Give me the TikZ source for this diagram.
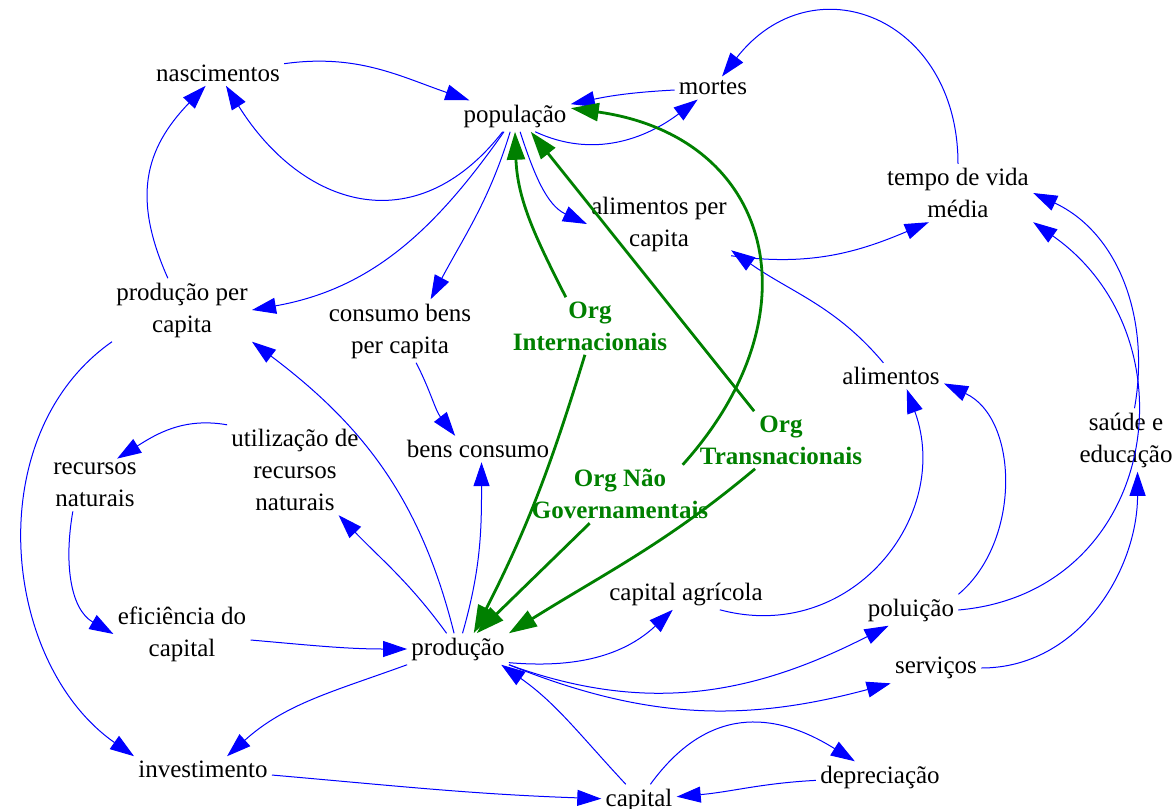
\documentclass[tikz,border=0pt]{standalone}
\usepackage{fontspec}
\setmainfont{Liberation Serif}
\usetikzlibrary{arrows.meta}
\definecolor{vert}{RGB}{0,128,0}
\begin{document}
\begin{tikzpicture}[x=0.5pt,y=0.5pt]
\tikzset{varnoeud/.style={align=center, inner sep=2pt, font=\fontsize{12.5}{16}\selectfont},
orgnoeud/.style={varnoeud, text=vert, font=\fontsize{12.5}{16}\selectfont\bfseries},
lien/.style={draw=blue, line width=0.5pt, -{Triangle[length=12pt,width=8pt]}},
lienvert/.style={draw=vert, line width=1.4pt, -{Triangle[length=14pt,width=9pt]}}}
\useasboundingbox (0,0) rectangle (1174,-809);
\node[varnoeud] (nasc) at (218,-73) {nascimentos};
\node[varnoeud] (pop) at (515,-116) {população};
\node[varnoeud] (mortes) at (713,-88) {mortes};
\node[varnoeud] (tempo) at (958,-193) {tempo de vida\\média};
\node[varnoeud] (alimpc) at (659,-224) {alimentos per\\capita};
\node[varnoeud] (prodpc) at (182,-310) {produção per\\capita};
\node[varnoeud] (consumo) at (400,-331) {consumo bens\\per capita};
\node[orgnoeud] (orgint) at (590,-326) {Org\\Internacionais};
\node[varnoeud] (alim) at (891,-376) {alimentos};
\node[orgnoeud] (orgtrans) at (781,-440) {Org\\Transnacionais};
\node[varnoeud] (saude) at (1126,-440) {saúde e\\educação};
\node[varnoeud] (recnat) at (95,-485) {recursos\\naturais};
\node[varnoeud] (utiliz) at (295,-470) {utilização de\\recursos\\naturais};
\node[varnoeud] (bens) at (478,-449) {bens consumo};
\node[orgnoeud] (orgnao) at (620,-494) {Org Não\\Governamentais};
\node[varnoeud] (capagr) at (686,-594) {capital agrícola};
\node[varnoeud] (efic) at (182,-634) {eficiência do\\capital};
\node[varnoeud] (prod) at (458,-649) {produção};
\node[varnoeud] (polu) at (911,-610) {poluição};
\node[varnoeud] (serv) at (936,-668) {serviços};
\node[varnoeud] (invest) at (203,-769) {investimento};
\node[varnoeud] (capital) at (639,-800) {capital};
\node[varnoeud] (deprec) at (880,-777) {depreciação};
% ligacoes
\draw[lien] (pop) to[out=232,in=-58,looseness=1.3] (nasc);
\draw[lien] (nasc) to[out=8,in=161] (pop);
\draw[lien] (prodpc) to[out=114,in=226,looseness=1.15] (nasc);
\draw[lien] (mortes) to[out=183,in=12] (pop);
\draw[lien] (pop.-38) to[out=-25,in=217] (mortes);
\draw[lien] (tempo) to[out=90,in=52,looseness=1.5] (mortes);
\draw[lien] (pop) to[out=-72,in=155] (alimpc.west);
\draw[lien] (alimpc.south east) to[out=-8,in=203] (tempo.-135);
\draw[lien] (alim.120) to[out=130,in=-35] (alimpc.-20);
\draw[lien] (pop) to[out=-107,in=62] (consumo.46);
\draw[lien] (pop) to[out=-125,in=10] (prodpc.east);
\draw[lien] (consumo) to[out=-63,in=128] (bens.150);
\draw[lien] (prod) to[out=74,in=-90] (bens.-75);
\draw[lien] (prod) to[out=126,in=-46] (utiliz);
\draw[lien] (prod) to[out=104,in=-37] (prodpc.south east);
\draw[lien] (utiliz.north west) to[out=170,in=32] (recnat.50);
\draw[lien] (recnat.-130) to[out=-100,in=150] (efic.west);
\draw[lien] (prodpc.south west) to[out=215,in=145] (invest.north west);
\draw[lien] (efic) to[out=-5,in=180] (prod);
\draw[lien] (prod.south west) to[out=200,in=42] (invest.28);
\draw[lien] (invest) to[out=-5,in=178] (capital);
\draw[lien] (capital.130) to[out=133,in=-35] (prod.-20);
\draw[lien] (capital) to[out=54,in=148,looseness=1.2] (deprec);
\draw[lien] (deprec) to[out=183,in=5] (capital);
\draw[lien] (prod.-15) to[out=-5,in=223] (capagr.-130);
\draw[lien] (capagr.-25) to[out=-15,in=-70,looseness=1.2] (alim.-40);
\draw[lien] (polu.north east) to[out=40,in=-25] (alim.-8);
\draw[lien] (polu.east) to[out=5,in=-35,looseness=1.3] (tempo.south east);
\draw[lien] (saude.75) to[out=80,in=-25] (tempo.east);
\draw[lien] (serv.east) to[out=0,in=-90] (saude.-70);
\draw[lien] (prod.south east) to[out=-20,in=207] (polu.-145);
\draw[lien] (prod.south east) to[out=-22,in=195] (serv.south west);
% organizacoes
\draw[lienvert] (orgint.130) to[out=117,in=-88] (pop.south);
\draw[lienvert] (orgint.-100) to[out=253,in=63] (prod.45);
\draw[lienvert] (orgnao.-136) -- (prod.40);
\draw[lienvert] (orgtrans.-132) to[out=220,in=32] (prod.north east);
\draw[lienvert] (orgtrans.133) -- (pop.-45);
\draw[lienvert] (orgnao.25) to[out=48,in=-8,looseness=1.4] (pop.8);
\end{tikzpicture}
\end{document}
